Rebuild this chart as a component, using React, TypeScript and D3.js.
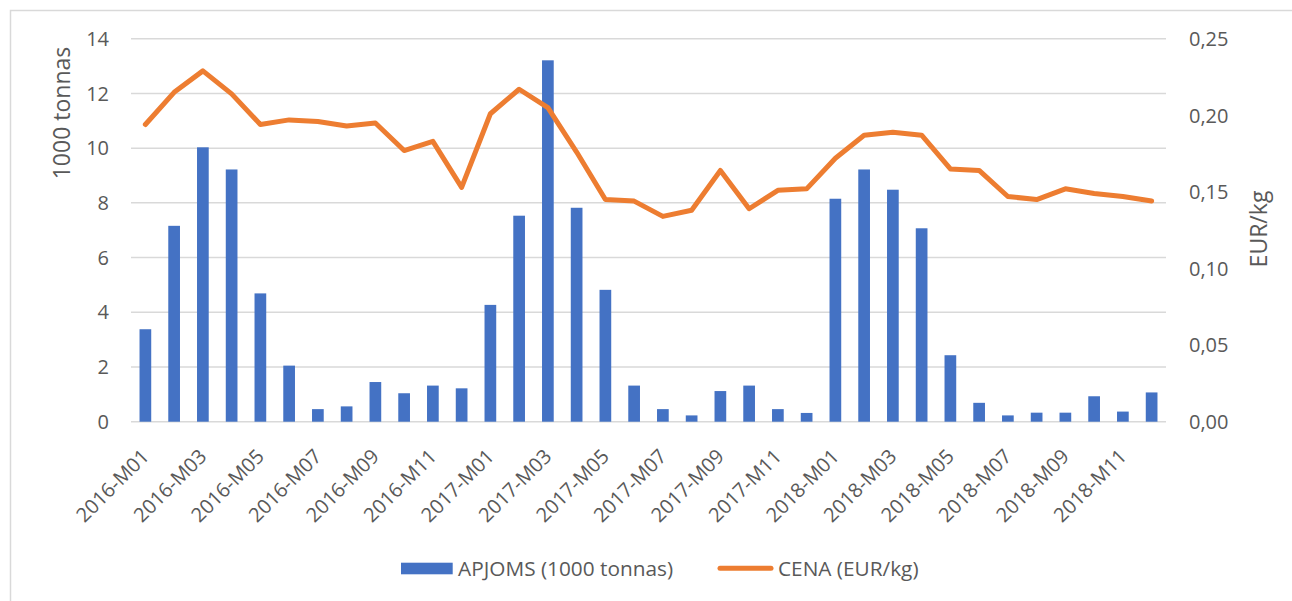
import React, { useEffect } from 'react';
import * as d3 from 'd3';

const width = 1292;
const height = 601;
const margin = { top: 38.7, right: 126, bottom: 179.3, left: 131 };
const blue = '#4472C4';
const orange = '#ED7D31';
const grid = '#d9d9d9';
const textColor = '#595959';
const font = '"Open Sans", "Noto Sans", sans-serif';

const months = [
  '2016-M01', '2016-M02', '2016-M03', '2016-M04', '2016-M05', '2016-M06',
  '2016-M07', '2016-M08', '2016-M09', '2016-M10', '2016-M11', '2016-M12',
  '2017-M01', '2017-M02', '2017-M03', '2017-M04', '2017-M05', '2017-M06',
  '2017-M07', '2017-M08', '2017-M09', '2017-M10', '2017-M11', '2017-M12',
  '2018-M01', '2018-M02', '2018-M03', '2018-M04', '2018-M05', '2018-M06',
  '2018-M07', '2018-M08', '2018-M09', '2018-M10', '2018-M11', '2018-M12',
];

// APJOMS (1000 tonnas)
const volume = [
  3.38, 7.16, 10.03, 9.22, 4.69, 2.05, 0.46, 0.56, 1.45, 1.04, 1.32, 1.22,
  4.27, 7.53, 13.21, 7.82, 4.82, 1.32, 0.46, 0.23, 1.12, 1.32, 0.46, 0.32,
  8.15, 9.22, 8.48, 7.07, 2.43, 0.69, 0.23, 0.33, 0.33, 0.93, 0.37, 1.07,
];

// CENA (EUR/kg)
const price = [
  0.194, 0.215, 0.229, 0.214, 0.194, 0.197, 0.196, 0.193, 0.195, 0.177, 0.183, 0.153,
  0.201, 0.217, 0.205, 0.176, 0.145, 0.144, 0.134, 0.138, 0.164, 0.139, 0.151, 0.152,
  0.172, 0.187, 0.189, 0.187, 0.165, 0.164, 0.147, 0.145, 0.152, 0.149, 0.147, 0.144,
];

const leftTicks = [0, 2, 4, 6, 8, 10, 12, 14];
const rightTicks = [0, 0.05, 0.1, 0.15, 0.2, 0.25];
const labelMonths = months.filter((d, i) => i % 2 === 0);

const plotBottom = height - margin.bottom;
const plotRight = width - margin.right;

const xScale = d3.scaleBand<string>()
  .domain(months)
  .range([margin.left, plotRight])
  .paddingInner(0.593)
  .paddingOuter(0.2965);
const yLeft = d3.scaleLinear().domain([0, 14]).range([plotBottom, margin.top]);
const yRight = d3.scaleLinear().domain([0, 0.25]).range([plotBottom, margin.top]);
const fmt = (d: number) => d3.format('.2f')(d).replace('.', ',');

const line = d3.line<number>()
  .x((d, i) => (xScale(months[i]) as number) + xScale.bandwidth() / 2)
  .y(d => yRight(d));

export default function App() {
  useEffect(() => {
    document.body.style.margin = '0';
  }, []);

  return (
    <svg width={width} height={height} style={{ display: 'block', background: '#fff' }}>
      <rect x={10.5} y={10.5} width={1400} height={700} fill="none" stroke={grid} strokeWidth={1.5} />

      {/* gridlines */}
      <g>
        {leftTicks.map(t => (
          <line key={t} x1={margin.left} x2={plotRight} y1={yLeft(t)} y2={yLeft(t)} stroke={grid} strokeWidth={1.5} />
        ))}
      </g>

      {/* bars */}
      <g>
        {volume.map((v, i) => (
          <rect key={months[i]} x={xScale(months[i])} y={yLeft(v)} width={xScale.bandwidth()}
            height={plotBottom - yLeft(v)} fill={blue} />
        ))}
      </g>

      {/* price line */}
      <path d={line(price) || ''} fill="none" stroke={orange} strokeWidth={5}
        strokeLinejoin="round" strokeLinecap="round" />

      {/* left axis */}
      <g fontFamily={font} fontSize={20} fill={textColor}>
        {leftTicks.map(t => (
          <text key={t} x={109} y={yLeft(t)} dy="0.36em" textAnchor="end">{t}</text>
        ))}
        <text transform={`translate(62, 113) rotate(-90)`} textAnchor="middle" dy="0.35em" fontSize={23}>1000 tonnas</text>
      </g>

      {/* right axis */}
      <g fontFamily={font} fontSize={20} fill={textColor}>
        {rightTicks.map(t => (
          <text key={t} x={1189} y={yRight(t)} dy="0.36em" textAnchor="start">{fmt(t)}</text>
        ))}
        <text transform={`translate(1259, 229) rotate(-90)`} textAnchor="middle" dy="0.35em" fontSize={23}>EUR/kg</text>
      </g>

      {/* x labels */}
      <g fontFamily={font} fontSize={20} fill={textColor}>
        {labelMonths.map(m => {
          const cx = (xScale(m) as number) + xScale.bandwidth() / 2;
          return (
            <text key={m} transform={`translate(${cx + 5}, ${plotBottom + 36}) rotate(-45)`} textAnchor="end">{m}</text>
          );
        })}
      </g>

      {/* legend */}
      <g fontFamily={font} fontSize={20.8} fill={textColor}>
        <rect x={401} y={562.7} width={51.7} height={11.6} fill={blue} />
        <text x={458} y={575.5}>APJOMS (1000 tonnas)</text>
        <line x1={720} x2={771} y1={568.3} y2={568.3} stroke={orange} strokeWidth={5} strokeLinecap="round" />
        <text x={778} y={575.5}>CENA (EUR/kg)</text>
      </g>
    </svg>
  );
}
